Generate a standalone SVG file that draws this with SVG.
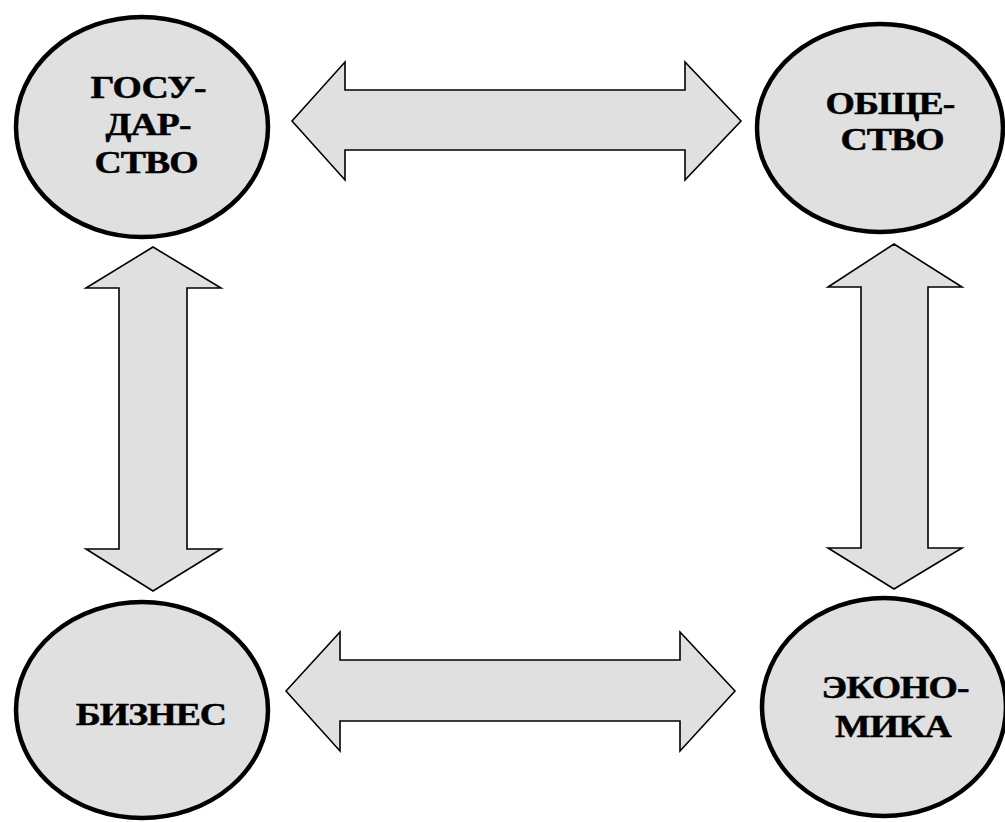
<svg xmlns="http://www.w3.org/2000/svg" width="1005" height="822" viewBox="0 0 1005 822">
<style>
.node ellipse{fill:#e0e0e0;stroke:#000;stroke-width:4.5}
.arrow{fill:#e0e0e0;stroke:#000;stroke-width:1.6;stroke-linejoin:miter}
text{font-family:"Liberation Serif","Times New Roman",serif;font-weight:bold;font-size:32px;letter-spacing:-0.8px;fill:#000;stroke:#000;stroke-width:0.5;text-anchor:middle}
</style>
<rect width="1005" height="822" fill="#fff"/>
<g id="connectors">
<polygon class="arrow" points="292,121 345,62 345,90 685,90 685,62 741,121 685,180 685,150 345,150 345,180"/>
<polygon class="arrow" points="286,691 340,632 340,660 680,660 680,632 735,691 680,751 680,721 340,721 340,751"/>
<polygon class="arrow" points="153,247 221,288 187,288 187,549 221,549 153,591 86,549 119,549 119,288 86,288"/>
<polygon class="arrow" points="894,244 962,287 928,287 928,548 962,548 894,589 828,548 861,548 861,287 828,287"/>
</g>
<g id="gosudarstvo" class="node">
<ellipse cx="142" cy="127" rx="126" ry="110"/>
<text transform="translate(148,98) scale(1.18,1)">ГОСУ-</text>
<text transform="translate(148,135) scale(1.18,1)">ДАР-</text>
<text transform="translate(146,173) scale(1.18,1)">СТВО</text>
</g>
<g id="obshchestvo" class="node">
<ellipse cx="880" cy="128" rx="123" ry="104"/>
<text transform="translate(890,114) scale(1.18,1)">ОБЩЕ-</text>
<text transform="translate(892,150) scale(1.18,1)">СТВО</text>
</g>
<g id="biznes" class="node">
<ellipse cx="142" cy="710" rx="126" ry="108"/>
<text transform="translate(151,725) scale(1.18,1)">БИЗНЕС</text>
</g>
<g id="ekonomika" class="node">
<ellipse cx="884" cy="707" rx="122" ry="109"/>
<text transform="translate(895,698) scale(1.18,1)">ЭКОНО-</text>
<text transform="translate(893,737) scale(1.18,1)">МИКА</text>
</g>
</svg>
